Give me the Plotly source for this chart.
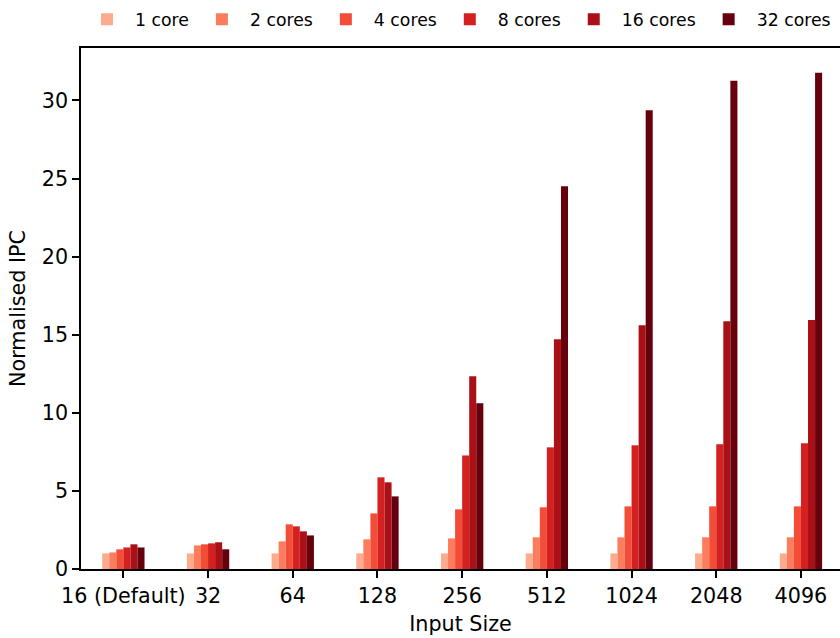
import plotly.graph_objects as go

categories = ["16 (Default)", "32", "64", "128", "256", "512", "1024", "2048", "4096"]
series_names = ["1 core", "2 cores", "4 cores", "8 cores", "16 cores", "32 cores"]
core1 = [1.0, 1.0, 1.0, 1.0, 1.0, 1.0, 1.0, 1.0, 1.0]
core2 = [1.06, 1.51, 1.77, 1.90, 1.96, 2.03, 2.03, 2.03, 2.03]
core4 = [1.26, 1.58, 2.86, 3.56, 3.82, 3.95, 4.01, 4.01, 4.01]
core8 = [1.38, 1.64, 2.73, 5.87, 7.27, 7.79, 7.92, 7.99, 8.05]
core16 = [1.58, 1.71, 2.41, 5.55, 12.34, 14.71, 15.61, 15.87, 15.94]
core32 = [1.38, 1.26, 2.15, 4.65, 10.62, 24.50, 29.38, 31.26, 31.77]
series_values = [core1, core2, core4, core8, core16, core32]
colors = ["#fcab8e", "#fb7d5d", "#f34c37", "#d42020", "#aa1016", "#67000d"]

FONT = "DejaVu Sans"

fig = go.Figure()
for name, vals, col in zip(series_names, series_values, colors):
    fig.add_trace(go.Bar(x=categories, y=vals, name=name,
                         marker=dict(color=col, line=dict(width=0))))

fig.update_layout(
    width=840, height=638,
    margin=dict(l=81, r=0, t=48, b=69, autoexpand=False),
    plot_bgcolor="white", paper_bgcolor="white",
    barmode="group", bargap=0.5, bargroupgap=0,
    font=dict(family=FONT, color="black", size=20.7),
    legend=dict(orientation="h", xref="container", yref="container",
                x=79 / 840, xanchor="left", y=1 - 19.5 / 638, yanchor="middle",
                font=dict(size=17.3, family=FONT), itemwidth=46,
                bgcolor="rgba(0,0,0,0)", traceorder="normal"),
    xaxis=dict(range=[-0.5, 8.461], showline=True, linecolor="black", linewidth=1.6,
               mirror=True, ticks="outside", ticklen=7, tickwidth=1.6, tickcolor="black",
               showgrid=False, zeroline=False, tickfont=dict(size=20.7),
               title=dict(text="Input Size", font=dict(size=20.7), standoff=10)),
    yaxis=dict(range=[0, 33.36], showline=True, linecolor="black", linewidth=1.6,
               mirror=False, ticks="outside", ticklen=7, tickwidth=1.6, tickcolor="black",
               tickvals=[0, 5, 10, 15, 20, 25, 30], showgrid=False, zeroline=False,
               tickfont=dict(size=20.7),
               title=dict(text="Normalised IPC", font=dict(size=20.7), standoff=10)),
)

fig.write_html("out.html")
